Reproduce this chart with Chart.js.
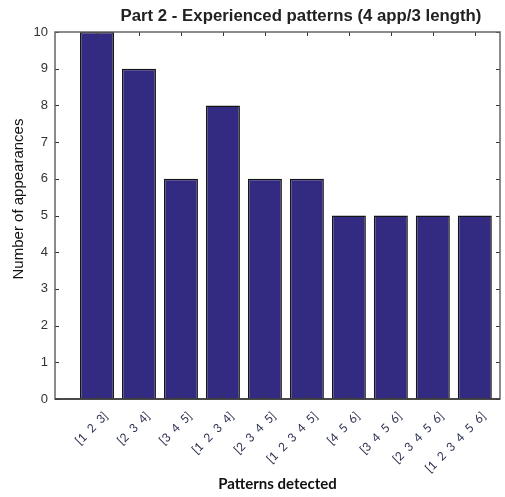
<!DOCTYPE html>
<html>
<head>
<meta charset="utf-8">
<title>Experienced patterns</title>
<script src="https://cdn.jsdelivr.net/npm/chart.js@4/dist/chart.umd.min.js"></script>
<style>
  html, body { margin: 0; padding: 0; background: #fff; }
  #wrap { width: 505px; height: 497px; }
</style>
</head>
<body>
<div id="wrap"><canvas id="patternChart" width="505" height="497"></canvas></div>
<script>
  const patterns = [
    "[1  2  3]", "[2  3  4]", "[3  4  5]", "[1  2  3  4]", "[2  3  4  5]",
    "[1  2  3  4  5]", "[4  5  6]", "[3  4  5  6]", "[2  3  4  5  6]", "[1  2  3  4  5  6]",
  ];
  const appearances = [10, 9, 6, 8, 6, 6, 5, 5, 5, 5];
  const yTicks = [0, 1, 2, 3, 4, 5, 6, 7, 8, 9, 10];
  const titleText = "Part 2 - Experienced patterns (4 app/3 length)";
  const yTitleText = "Number of appearances";

  const TICK_LEN = 4;

  // box round the plot area with inward tick marks, plus the titles
  const frame = {
    id: "frame",
    afterDatasetsDraw(chart) {
      const { ctx, chartArea: a, scales } = chart;
      ctx.save();
      ctx.strokeStyle = "#333";
      ctx.lineWidth = 1;
      ctx.beginPath();
      for (const t of scales.x.ticks) {
        const px = Math.round(scales.x.getPixelForValue(t.value)) + 0.5;
        ctx.moveTo(px, a.bottom); ctx.lineTo(px, a.bottom - TICK_LEN);
        ctx.moveTo(px, a.top); ctx.lineTo(px, a.top + TICK_LEN);
      }
      for (const t of scales.y.ticks) {
        const py = Math.round(scales.y.getPixelForValue(t.value)) + 0.5;
        ctx.moveTo(a.left, py); ctx.lineTo(a.left + TICK_LEN, py);
        ctx.moveTo(a.right, py); ctx.lineTo(a.right - TICK_LEN, py);
      }
      ctx.stroke();

      ctx.strokeStyle = "#666";
      ctx.lineWidth = 1.5;
      ctx.strokeRect(a.left, a.top, a.right - a.left, a.bottom - a.top);
      ctx.strokeStyle = "#333";
      ctx.beginPath();
      ctx.moveTo(a.left, a.bottom); ctx.lineTo(a.right, a.bottom);
      ctx.stroke();

      ctx.fillStyle = "#222";
      ctx.font = "bold 16.8px 'Liberation Sans', Arial, sans-serif";
      ctx.textAlign = "center";
      ctx.textBaseline = "middle";
      ctx.fillText(titleText, 301, 16);

      ctx.fillStyle = "#111";
      ctx.font = "15px 'Liberation Sans', Arial, sans-serif";
      ctx.translate(19, 199);
      ctx.rotate(-Math.PI / 2);
      ctx.fillText(yTitleText, 0, 0);
      ctx.restore();
    },
  };

  new Chart(document.getElementById("patternChart"), {
    type: "bar",
    data: {
      datasets: [{
        data: appearances.map((v, i) => ({ x: i + 1, y: v })),
        backgroundColor: "#332b82",
        borderColor: "#151515",
        borderWidth: 1.5,
        barPercentage: 0.81,
        categoryPercentage: 1,
      }],
    },
    options: {
      responsive: false,
      animation: false,
      layout: { padding: { top: 32, right: 5, left: 0, bottom: 0 } },
      plugins: { legend: { display: false }, tooltip: { enabled: false }, title: { display: false } },
      scales: {
        x: {
          type: "linear",
          min: 0,
          max: 10.6,
          offset: false,
          grid: { display: false, drawTicks: false },
          border: { display: false },
          afterBuildTicks: (scale) => { scale.ticks = patterns.map((p, i) => ({ value: i + 1 })); },
          afterFit: (scale) => { scale.height = 98; },
          ticks: {
            autoSkip: false,
            minRotation: 45,
            maxRotation: 45,
            padding: 10,
            labelOffset: 9,
            color: "#2c3050",
            font: { family: "Lato, 'Open Sans', sans-serif", size: 12 },
            callback: (value) => patterns[Math.round(value) - 1] ?? "",
          },
          title: {
            display: true,
            text: "Patterns detected",
            color: "#111",
            font: { family: "Lato, 'Open Sans', sans-serif", size: 15, weight: "bold" },
            padding: { top: 0, bottom: 4 },
          },
        },
        y: {
          min: 0,
          max: 10,
          grid: { display: false, drawTicks: false },
          border: { display: false },
          afterBuildTicks: (scale) => { scale.ticks = yTicks.map((v) => ({ value: v })); },
          afterFit: (scale) => { scale.width = 55; },
          ticks: {
            padding: 7,
            color: "#333",
            font: { family: "'Liberation Sans', Arial, sans-serif", size: 13 },
          },
        },
      },
    },
    plugins: [frame],
  });
</script>
</body>
</html>
